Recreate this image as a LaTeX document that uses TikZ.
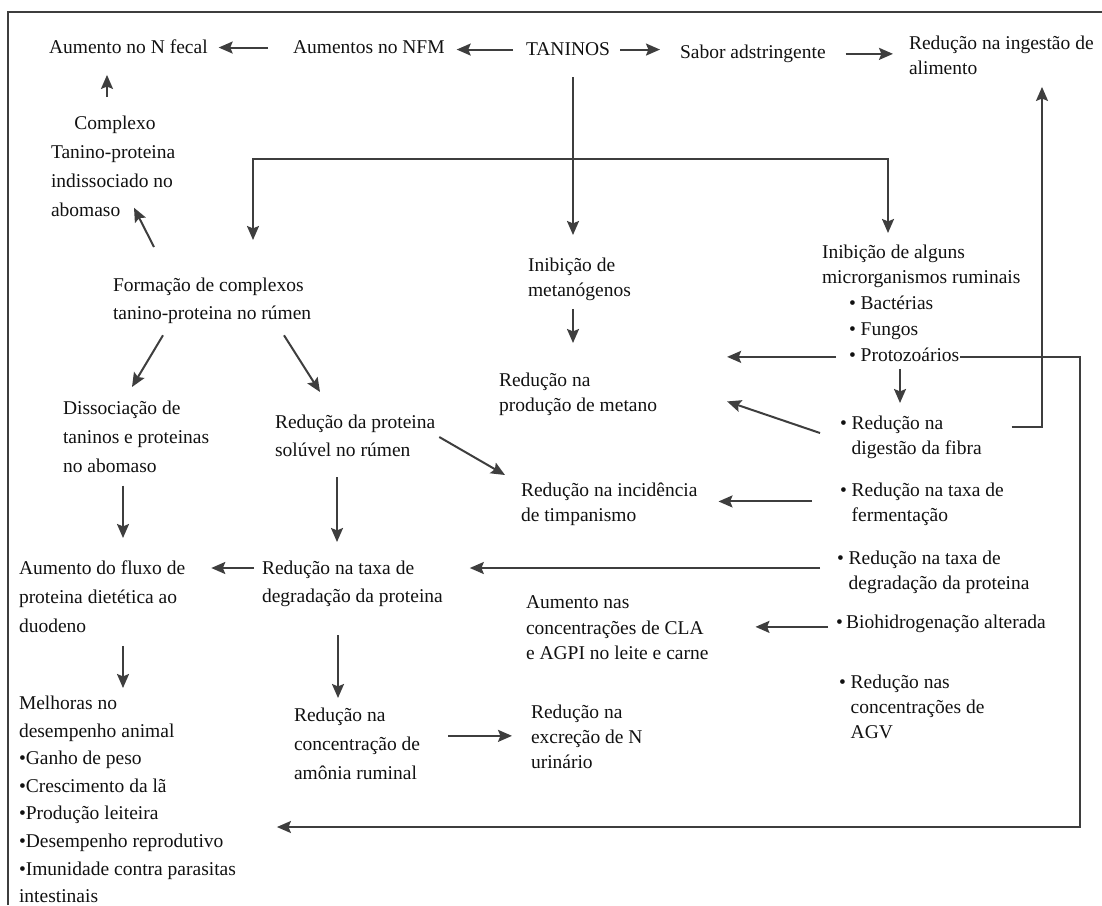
\documentclass[tikz,border=0pt]{standalone}
\usepackage{fontspec}
\setmainfont{Liberation Serif}
\usetikzlibrary{arrows.meta,calc}
\definecolor{ink}{HTML}{111111}
\definecolor{wire}{HTML}{3E3E3E}

\begin{document}
\begin{tikzpicture}[x=0.5pt,y=-0.5pt,color=wire,line width=1pt,
    >={Stealth[length=7pt,width=6pt,inset=1.2pt]},
    txt/.style={anchor=north west,inner sep=0pt,align=left,text=ink,font=\fontsize{9.75}{13.8}\selectfont},
    tight/.style={txt,font=\fontsize{9.75}{12.6}\selectfont},
    loose/.style={txt,font=\fontsize{9.75}{14.5}\selectfont}]
\useasboundingbox (0,0) rectangle (1102,905);
\draw (8,905) -- (8,12) -- (1102,12);

\draw (48,39) node[txt] (fecal) {Aumento no N fecal};
\draw (292,40) node[txt] (nfm) {Aumentos no NFM};
\draw (525,42) node[txt] (taninos) {TANINOS};
\draw (679,44) node[txt] (sabor) {Sabor adstringente};
\draw (908,35) node[tight] (ingestao) {Redução na ingestão de\\alimento};
\draw (50,115) node[loose] (complexo) {\hspace*{1.2em}Complexo\\Tanino-proteina\\indissociado no\\abomaso};
\draw (112,277) node[txt] (formacao) {Formação de complexos\\tanino-proteina no rúmen};
\draw (527,257) node[tight] (inibmet) {Inibição de\\metanógenos};
\draw (821,244) node[tight] (inibmic) {Inibição de alguns\\microrganismos ruminais};
\draw (848,295) node[txt] (bact) {\textbullet\ Bactérias};
\draw (848,322) node[txt] (fungos) {\textbullet\ Fungos};
\draw (848,347) node[txt] (protoz) {\textbullet\ Protozoários};
\draw (498,372) node[tight] (metano) {Redução na\\produção de metano};
\draw (839,415) node[tight] (fibra) {\textbullet\ Redução na\\\hphantom{\textbullet\ }digestão da fibra};
\draw (62,400) node[loose] (dissoc) {Dissociação de\\taninos e proteinas\\no abomaso};
\draw (274,414) node[txt] (soluvel) {Redução da proteina\\solúvel no rúmen};
\draw (520,482) node[tight] (timpan) {Redução na incidência\\de timpanismo};
\draw (839,482) node[tight] (ferment) {\textbullet\ Redução na taxa de\\\hphantom{\textbullet\ }fermentação};
\draw (836,550) node[tight] (degrdir) {\textbullet\ Redução na taxa de\\\hphantom{\textbullet\ }degradação da proteina};
\draw (18,560) node[loose] (fluxo) {Aumento do fluxo de\\proteina dietética ao\\duodeno};
\draw (261,560) node[txt] (degr) {Redução na taxa de\\degradação da proteina};
\draw (525,595) node[tight] (cla) {Aumento nas\\concentrações de CLA\\e AGPI no leite e carne};
\draw (835,614) node[txt] (bio) {\textbullet\,Biohidrogenação alterada};
\draw (838,674) node[tight] (agv) {\textbullet\ Redução nas\\\hphantom{\textbullet\ }concentrações de\\\hphantom{\textbullet\ }AGV};
\draw (18,695) node[txt] (melhoras) {Melhoras no\\desempenho animal\\\textbullet Ganho de peso\\\textbullet Crescimento da lã\\\textbullet Produção leiteira\\\textbullet Desempenho reprodutivo\\\textbullet Imunidade contra parasitas\\intestinais};
\draw (293,707) node[loose] (amonia) {Redução na\\concentração de\\amônia ruminal};
\draw (530,704) node[tight] (excrecao) {Redução na\\excreção de N\\urinário};

\path[->] ($(nfm.west)+(-24,0)$) edge ($(fecal.east |- nfm.west)+(10,0)$)
  ($(taninos.west)+(-12,0)$) edge ($(nfm.east |- taninos.west)+(11,0)$)
  ($(taninos.east)+(9,0)$) edge ($(sabor.west |- taninos.east)+(-19,0)$)
  ($(sabor.east)+(19,0)$) edge ($(ingestao.west |- sabor.east)+(-15,0)$)
  ($(complexo.north west)+(57,-18)$) edge ($(fecal.south west)+(59,20)$)
  ($(formacao.north west)+(42,-30)$) edge ($(complexo.south west)+(84,-10)$)
  ($(taninos.south west)+(48,20)$) edge ($(inibmet.north west)+(46,-22)$)
  ($(inibmet.south west)+(46,7)$) edge ($(metano.north west)+(75,-29)$)
  ($(protoz.west)+(-12,2)$) edge ($(metano.east |- protoz.west)+(69,2)$)
  ($(protoz.south west)+(52,6)$) edge ($(fibra.north west)+(61,-12)$)
  ($(fibra.north west)+(-19,18)$) edge ($(metano.east)+(69,7)$)
  ($(formacao.south west)+(51,11)$) edge ($(dissoc.north west)+(70,-13)$)
  ($(formacao.south west)+(172,11)$) edge ($(soluvel.north west)+(46,-22)$)
  ($(soluvel.north east)+(3,23)$) edge ($(timpan.north west)+(-15,-7)$)
  ($(ferment.west)+(-27,-3)$) edge ($(timpan.east |- ferment.west)+(20,-3)$)
  ($(dissoc.south west)+(61,12)$) edge ($(fluxo.north west)+(105,-22)$)
  ($(soluvel.south west)+(63,20)$) edge ($(degr.north west)+(76,-18)$)
  ($(degr.north west)+(-7,8)$) edge ($(fluxo.north east |- degr.north west)+(25,8)$)
  ($(degrdir.north west)+(-16,18)$) edge ($(degr.north east |- degrdir.north west)+(26,18)$)
  ($(bio.west)+(-7,3)$) edge ($(cla.east |- bio.west)+(46,3)$)
  ($(fluxo.south west)+(105,12)$) edge ($(melhoras.north west)+(105,-7)$)
  ($(degr.south west)+(77,28)$) edge ($(amonia.north west)+(45,-9)$)
  ($(amonia.east)+(27,-8)$) edge ($(excrecao.west |- amonia.east)+(-18,-8)$);

\coordinate (split) at ($(taninos.south west)+(48,102)$);
\draw[->] (split) -| ($(formacao.north west)+(141,-37)$);
\draw[->] (split) -| ($(inibmic.north west)+(67,-11)$);
\draw[->] ($(fibra.north east)+(29,12)$) -| ($(ingestao.south west)+(134,11)$);
\draw[->] ($(protoz.east)+(0,2)$) -- ++(120,0) |- ($(melhoras.north east)+(40,132)$);
\end{tikzpicture}
\end{document}
